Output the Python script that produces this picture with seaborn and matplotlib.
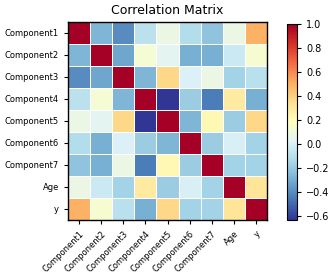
import numpy as np
import pandas as pd
import matplotlib
matplotlib.use("Agg")
import matplotlib.pyplot as plt
import seaborn as sns

labels = ["Component1", "Component2", "Component3", "Component4", "Component5",
          "Component6", "Component7", "Age", "y"]

# upper-triangle correlations, row by row (excluding diagonal)
row_c1 = [-0.27, -0.40, -0.09, 0.08, -0.12, -0.22, 0.08, 0.50]
row_c2 = [-0.32, 0.13, 0.04, -0.29, -0.29, -0.04, 0.14]
row_c3 = [-0.27, 0.37, 0.01, 0.08, -0.16, -0.10]
row_c4 = [-0.63, -0.19, -0.44, 0.29, -0.29]
row_c5 = [-0.27, 0.22, -0.19, 0.37]
row_c6 = [-0.19, 0.00, -0.16]
row_c7 = [-0.16, -0.16]
row_age = [0.32]

rows = [row_c1, row_c2, row_c3, row_c4, row_c5, row_c6, row_c7, row_age]
n = len(labels)
corr = np.eye(n)
for i, r in enumerate(rows):
    for k, v in enumerate(r):
        j = i + 1 + k
        corr[i, j] = v
        corr[j, i] = v
df = pd.DataFrame(corr, index=labels, columns=labels)

fig = plt.figure(figsize=(3.35, 2.8), dpi=100)
ax = fig.add_axes([68/335, 1 - 220/280, 199/335, 198/280])
cax = fig.add_axes([287/335, 1 - 220/280, 10/335, 196/280])

sns.heatmap(df, ax=ax, cbar_ax=cax, cmap="RdYlBu_r", linewidths=0.6,
            linecolor="white", square=False)
for s in ax.spines.values():
    s.set_visible(True)
    s.set_color("black")
    s.set_linewidth(1.0)
ax.set_title("Correlation Matrix", fontsize=9)
ax.tick_params(axis="both", labelsize=6, length=3, width=0.8)
ax.set_xticklabels(labels, rotation=45, ha="right", rotation_mode="anchor")
ax.set_yticklabels(labels, rotation=0)
cax.tick_params(labelsize=7, length=3)
cb = ax.collections[0].colorbar
cb.outline.set_linewidth(0.8)

fig.savefig("out.png", dpi=100)
